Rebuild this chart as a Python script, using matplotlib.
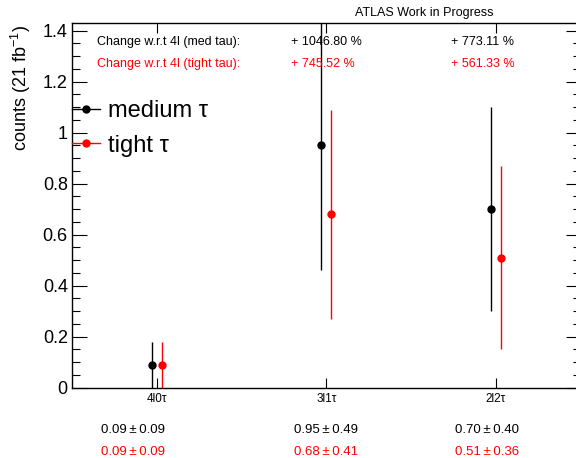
import numpy as np
import matplotlib
matplotlib.use("Agg")
import matplotlib.pyplot as plt
from matplotlib.lines import Line2D
from matplotlib.ticker import AutoMinorLocator

plt.rcParams['font.family'] = ['Liberation Sans', 'DejaVu Sans']
plt.rcParams['mathtext.default'] = 'regular'

# channels and yields (21 fb-1)
channels = ['4l0τ', '3l1τ', '2l2τ']
medium = [0.09, 0.95, 0.70]
medium_err = [0.09, 0.49, 0.40]
tight = [0.09, 0.68, 0.51]
tight_err = [0.09, 0.41, 0.36]
change_med = ['+ 1046.80 %', '+ 773.11 %']
change_tight = ['+ 745.52 %', '+ 561.33 %']

W, H = 576, 458
fig = plt.figure(figsize=(W / 100, H / 100), dpi=100)

# frame in pixels: left 72, right 580.5, top 23, bottom 387.5
ax = fig.add_axes([72 / W, 1 - 387.5 / H, 508.5 / W, 364.5 / H])

x = np.arange(len(channels)) + 0.5
shift = 0.03
ax.errorbar(x - shift, medium, yerr=medium_err, fmt='o', color='black',
            ms=5, elinewidth=1.0, capsize=0)
ax.errorbar(x + shift, tight, yerr=tight_err, fmt='o', color='red',
            ms=5, elinewidth=1.0, capsize=0)

ax.set_xlim(0, len(channels))
ax.set_ylim(0, 1.43)
ax.set_xticks(x)
ax.set_xticklabels(channels, fontsize=8.5)
ax.yaxis.set_minor_locator(AutoMinorLocator(4))
ax.set_yticks([0, 0.2, 0.4, 0.6, 0.8, 1.0, 1.2, 1.4])
ax.set_yticklabels(['0', '0.2', '0.4', '0.6', '0.8', '1', '1.2', '1.4'])
ax.tick_params(axis='y', which='major', direction='in', length=10.8, width=0.8,
               labelsize=13, pad=3, right=True)
ax.tick_params(axis='y', which='minor', direction='in', length=5.8, width=0.8, right=True)
ax.tick_params(axis='x', which='major', direction='in', length=7.2, width=0.8,
               top=True, pad=4)
for s in ax.spines.values():
    s.set_linewidth(1.0)

ax.set_ylabel('counts (21 fb$^{-1}$)', fontsize=13, loc='top', va='center')
ax.yaxis.set_label_coords((21 - 72) / 508.5, 0.995)

handles = [Line2D([], [], color='black', marker='o', ms=5, lw=1.0),
           Line2D([], [], color='red', marker='o', ms=5, lw=1.0)]
ax.legend(handles, ['medium τ', 'tight τ'], loc='center left',
          bbox_to_anchor=(72 / W, 1 - 128.5 / H), bbox_transform=fig.transFigure,
          frameon=False, fontsize=17, handlelength=1.18, handletextpad=0.34,
          labelspacing=0.52, borderpad=0, borderaxespad=0)

fig.text(355 / W, 1 - 13 / H, 'ATLAS Work in Progress', fontsize=9, va='center')
fig.text(97 / W, 1 - 42 / H, 'Change w.r.t 4l (med tau):', fontsize=9, va='center')
fig.text(97 / W, 1 - 64 / H, 'Change w.r.t 4l (tight tau):', fontsize=9,
         va='center', color='red')
for xp, t in zip([291, 451], change_med):
    fig.text(xp / W, 1 - 42 / H, t, fontsize=9, va='center')
for xp, t in zip([291, 451], change_tight):
    fig.text(xp / W, 1 - 64 / H, t, fontsize=9, va='center', color='red')

for xp, v, e in zip([101, 294, 455], medium, medium_err):
    fig.text(xp / W, 1 - 430 / H, f'{v:.2f}\u2009±\u2009{e:.2f}', fontsize=9.5, va='center')
for xp, v, e in zip([101, 294, 455], tight, tight_err):
    fig.text(xp / W, 1 - 452 / H, f'{v:.2f}\u2009±\u2009{e:.2f}', fontsize=9.5,
             va='center', color='red')

fig.savefig('out.png', dpi=100)
